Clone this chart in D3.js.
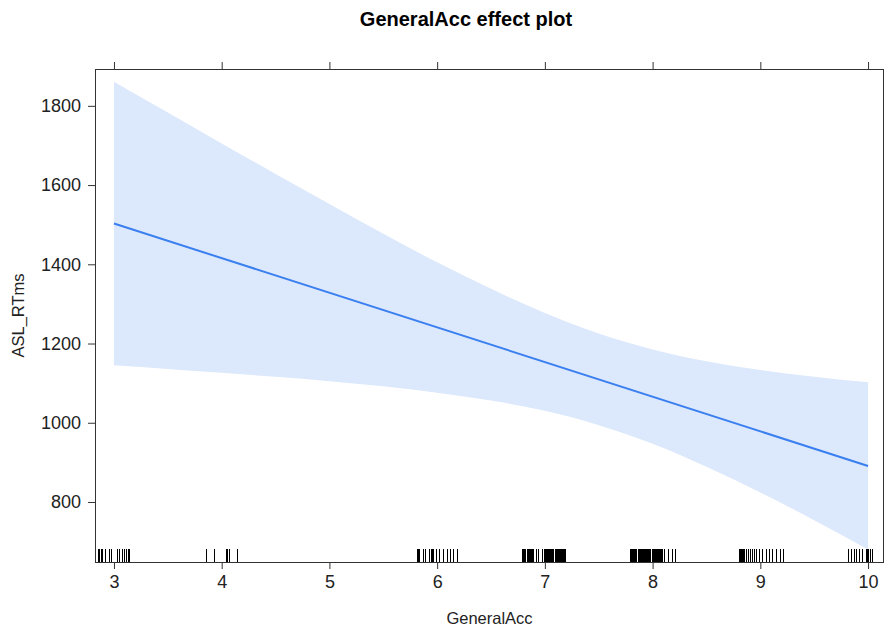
<!DOCTYPE html>
<html>
<head>
<meta charset="utf-8">
<script src="https://cdn.jsdelivr.net/npm/d3@7"></script>
<style>
  body { margin: 0; background: #fff; }
  svg { display: block; font-family: "Liberation Sans", Arial, sans-serif; }
</style>
</head>
<body>
<svg id="chart" width="885" height="628"></svg>
<script>
// effect estimate
var fitX = [3, 10];
var fitY = [1503, 891];

// confidence band, read at half steps
var bandX = [3, 3.5, 4, 4.5, 5, 5.5, 6, 6.5, 7, 7.5, 8, 8.5, 9, 9.5, 10];
var bandUpper = [1861, 1783, 1705, 1628, 1552, 1477, 1405, 1338, 1277, 1225, 1185, 1155, 1133, 1116, 1102];
var bandLower = [1145, 1136, 1126, 1116, 1105, 1092, 1076, 1056, 1030, 994, 947, 889, 824, 754, 680];

// rug of observed GeneralAcc values (jittered)
var rugValues = [
  2.85, 2.86, 2.88, 2.89, 2.92, 2.95, 2.97, 3.03, 3.05, 3.07, 3.09, 3.11, 3.13, 3.14,
  3.85, 3.93, 4.04, 4.05, 4.07, 4.14,
  5.81, 5.82, 5.83, 5.87, 5.89, 5.92, 5.94, 5.95, 5.96, 5.99, 6.02, 6.05, 6.09, 6.12, 6.15, 6.18,
  6.79, 6.80, 6.81, 6.82, 6.83, 6.84, 6.85, 6.86, 6.87, 6.88, 6.89, 6.92, 6.94, 6.97,
  6.99, 7.00, 7.01, 7.02, 7.03, 7.04, 7.05, 7.06, 7.07, 7.08, 7.09, 7.10, 7.11, 7.12,
  7.13, 7.14, 7.15, 7.16, 7.17, 7.18, 7.19,
  7.79, 7.80, 7.81, 7.82, 7.83, 7.84, 7.85, 7.86, 7.87, 7.88, 7.89, 7.90, 7.91, 7.92,
  7.93, 7.94, 7.95, 7.96, 7.97, 7.98, 7.99, 8.00, 8.01, 8.02, 8.03, 8.04, 8.05, 8.06,
  8.07, 8.08, 8.09, 8.11, 8.14, 8.18, 8.21,
  8.80, 8.81, 8.82, 8.83, 8.84, 8.85, 8.87, 8.89, 8.90, 8.92, 8.94, 8.96,
  8.99, 9.02, 9.05, 9.08, 9.11, 9.15, 9.18, 9.21,
  9.81, 9.84, 9.87, 9.89, 9.92, 9.94, 9.98, 9.99, 10.00, 10.02, 10.04
];

var xTicks = [3, 4, 5, 6, 7, 8, 9, 10];
var yTicks = [800, 1000, 1200, 1400, 1600, 1800];

var margin = { top: 69, right: 1, bottom: 66, left: 95 },
    W = 885, H = 628,
    width = W - margin.left - margin.right,
    height = H - margin.top - margin.bottom;

var svg = d3.select('#chart');
var g = svg.append('g')
  .attr('transform', 'translate(' + margin.left + ',' + margin.top + ')');

var x = d3.scaleLinear().domain([2.824, 10.148]).range([0, width]);
var y = d3.scaleLinear().domain([648.5, 1893]).range([height, 0]);

// band
var area = d3.area()
  .x(function (d, i) { return x(bandX[i]); })
  .y0(function (d, i) { return y(bandLower[i]); })
  .y1(function (d, i) { return y(bandUpper[i]); })
  .curve(d3.curveMonotoneX);

g.append('path')
  .datum(bandX)
  .attr('d', area)
  .attr('fill', '#dce8fb');

// fitted line
var line = d3.line()
  .x(function (d, i) { return x(fitX[i]); })
  .y(function (d, i) { return y(fitY[i]); });

g.append('path')
  .datum(fitX)
  .attr('d', line)
  .attr('fill', 'none')
  .attr('stroke', '#3a7ff0')
  .attr('stroke-width', 2);

// rug
g.append('g')
  .selectAll('line')
  .data(rugValues)
  .enter().append('line')
  .attr('x1', function (d) { return Math.round(x(d)) + 0.5; })
  .attr('x2', function (d) { return Math.round(x(d)) + 0.5; })
  .attr('y1', height - 13)
  .attr('y2', height)
  .attr('stroke', '#000')
  .attr('stroke-width', 1);

// axes
var axisColor = '#333';
var xAxisBottom = g.append('g')
  .attr('transform', 'translate(0,' + height + ')')
  .call(d3.axisBottom(x).tickValues(xTicks).tickSize(7).tickPadding(6).tickFormat(d3.format('d')));
var xAxisTop = g.append('g')
  .call(d3.axisTop(x).tickValues(xTicks).tickSize(7).tickFormat(''));
var yAxisLeft = g.append('g')
  .call(d3.axisLeft(y).tickValues(yTicks).tickSize(7).tickPadding(7).tickFormat(d3.format('d')));

[xAxisBottom, xAxisTop, yAxisLeft].forEach(function (a) {
  a.select('.domain').remove();
  a.selectAll('line').attr('stroke', axisColor);
  a.selectAll('text')
    .attr('fill', '#222')
    .style('font-size', '18px')
    .style('font-family', '"Liberation Sans", Arial, sans-serif');
});

// frame
g.append('rect')
  .attr('x', 0.5).attr('y', 0.5)
  .attr('width', width - 1).attr('height', height)
  .attr('fill', 'none')
  .attr('stroke', axisColor)
  .attr('stroke-width', 1);

// titles
svg.append('text')
  .attr('x', 466).attr('y', 26)
  .attr('text-anchor', 'middle')
  .style('font-size', '20px')
  .style('font-weight', 'bold')
  .attr('fill', '#000')
  .text('GeneralAcc effect plot');

svg.append('text')
  .attr('x', margin.left + width / 2).attr('y', 624)
  .attr('text-anchor', 'middle')
  .style('font-size', '16.5px')
  .attr('fill', '#222')
  .text('GeneralAcc');

svg.append('text')
  .attr('transform', 'translate(24,' + (margin.top + height / 2) + ') rotate(-90)')
  .attr('text-anchor', 'middle')
  .style('font-size', '16.5px')
  .attr('fill', '#222')
  .text('ASL_RTms');
</script>
</body>
</html>
